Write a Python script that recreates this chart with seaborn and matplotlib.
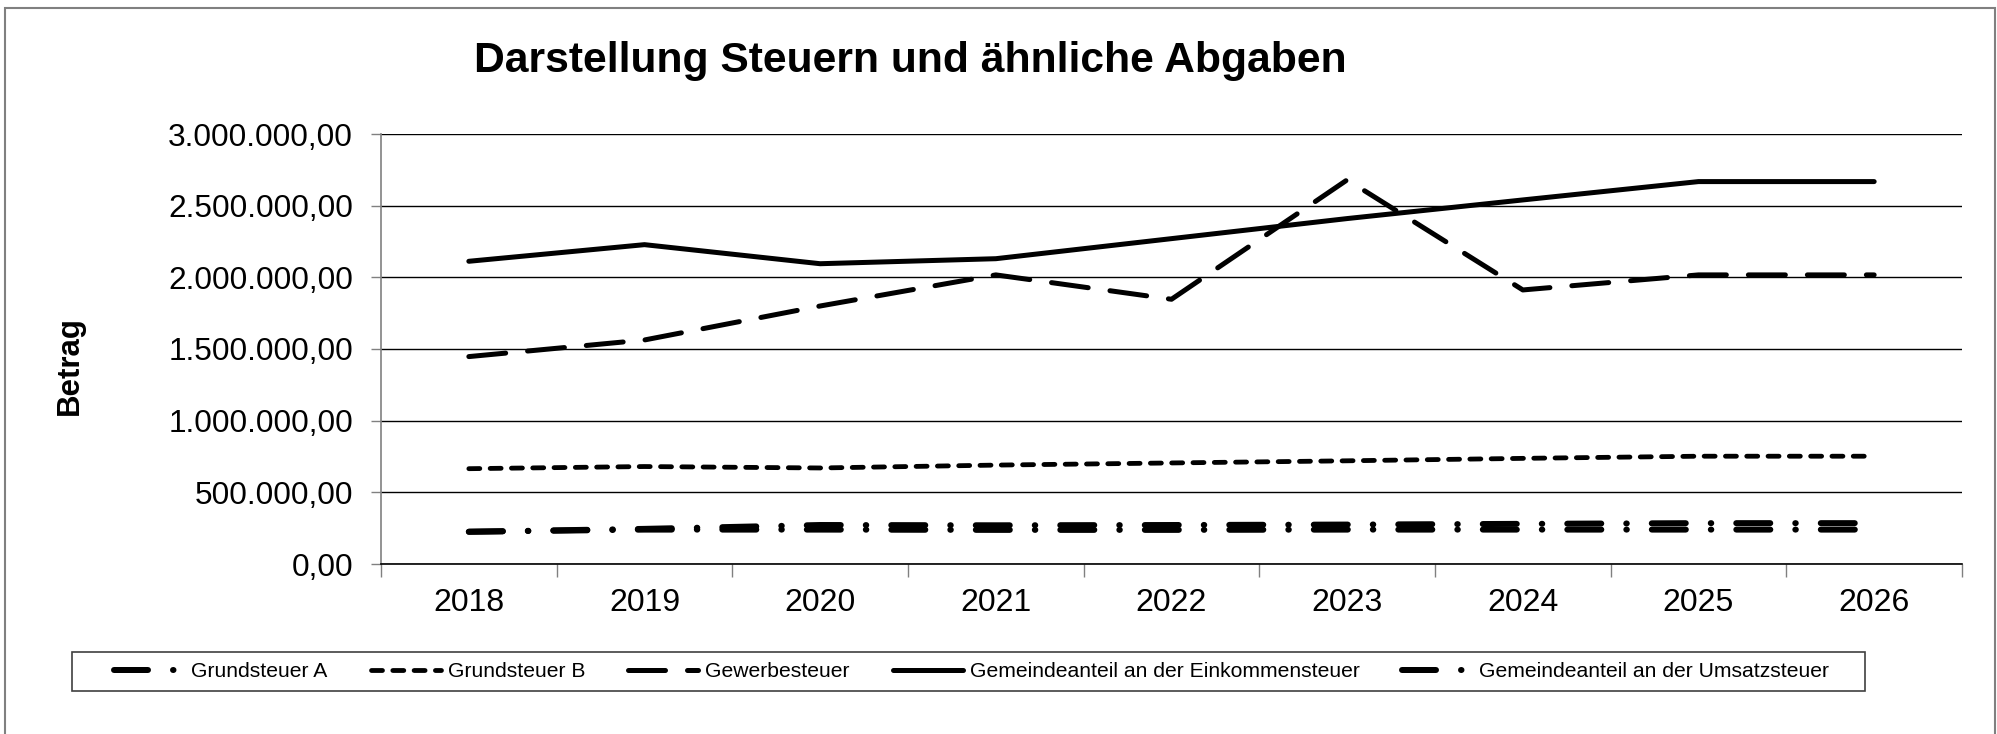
import matplotlib
matplotlib.use("Agg")
import matplotlib.pyplot as plt
import numpy as np
import pandas as pd
import seaborn as sns
from matplotlib.ticker import FixedLocator, FuncFormatter, NullFormatter, FixedFormatter
from matplotlib.patches import Rectangle

# ---------------- data ----------------
years = ["2018", "2019", "2020", "2021", "2022", "2023", "2024", "2025", "2026"]
grundsteuer_a = [225000, 240000, 240000, 238000, 238000, 240000, 240000, 240000, 240000]
grundsteuer_b = [665000, 680000, 670000, 690000, 705000, 720000, 737000, 752000, 752000]
gewerbesteuer = [1447000, 1563000, 1800000, 2017000, 1847000, 2680000, 1912000, 2017000, 2017000]
einkommensteuer = [2112000, 2228000, 2095000, 2130000, 2270000, 2410000, 2540000, 2668000, 2668000]
umsatzsteuer = [225000, 245000, 272000, 270000, 272000, 275000, 280000, 285000, 285000]

series_names = [
    "Grundsteuer A",
    "Grundsteuer B",
    "Gewerbesteuer",
    "Gemeindeanteil an der Einkommensteuer",
    "Gemeindeanteil an der Umsatzsteuer",
]
series_values = [grundsteuer_a, grundsteuer_b, gewerbesteuer, einkommensteuer, umsatzsteuer]
y_ticks = [0, 500000, 1000000, 1500000, 2000000, 2500000, 3000000]

title = "Darstellung Steuern und ähnliche Abgaben"
y_label = "Betrag"

# ---------------- style ----------------
sns.set_style("white")
plt.rcParams["font.family"] = ["Liberation Sans", "DejaVu Sans"]
plt.rcParams["text.color"] = "black"
plt.rcParams["axes.labelcolor"] = "black"
plt.rcParams["xtick.color"] = "black"
plt.rcParams["ytick.color"] = "black"
plt.rcParams["lines.scale_dashes"] = False
plt.rcParams["lines.dash_capstyle"] = "round"
plt.rcParams["lines.solid_capstyle"] = "round"

PX = 0.72  # px -> pt at dpi 100
dashdot = (0, (34 * PX, 25 * PX, 0.5 * PX, 25 * PX))
styles = [
    dict(lw=6 * PX, ls=dashdot),
    dict(lw=4.8 * PX, ls=(0, (11 * PX, 10.3 * PX))),
    dict(lw=5 * PX, ls=(0, (37 * PX, 22 * PX))),
    dict(lw=5 * PX, ls="-"),
    dict(lw=6 * PX, ls=dashdot),
]

W, H = 1997, 734
fig = plt.figure(figsize=(W / 100, H / 100), dpi=100)
ax_l, ax_r, ax_t, ax_b = 381, 1962, 134, 564
ax = fig.add_axes([ax_l / W, 1 - ax_b / H, (ax_r - ax_l) / W, (ax_b - ax_t) / H])

frames = []
for name, vals in zip(series_names, series_values):
    frames.append(pd.DataFrame({"Jahr": years, "Betrag": vals, "Serie": name}))
df = pd.concat(frames, ignore_index=True)

for name, st in zip(series_names, styles):
    sub = df[df["Serie"] == name]
    sns.lineplot(data=sub, x="Jahr", y="Betrag", ax=ax, color="black",
                 linewidth=st["lw"], linestyle=st["ls"], label=name,
                 legend=False, zorder=3)

# axes
ax.set_xlim(-0.5, len(years) - 0.5)
ax.set_ylim(0, 3000000)
ax.yaxis.set_major_locator(FixedLocator(y_ticks))
ax.yaxis.set_major_formatter(FuncFormatter(
    lambda v, p: f"{v:,.2f}".replace(",", "X").replace(".", ",").replace("X", ".")))
ax.yaxis.grid(True, color="black", linewidth=1.0, zorder=1)
ax.set_axisbelow(True)

ax.xaxis.set_major_locator(FixedLocator(np.arange(-0.5, len(years), 1.0)))
ax.xaxis.set_major_formatter(NullFormatter())
ax.xaxis.set_minor_locator(FixedLocator(np.arange(len(years))))
ax.xaxis.set_minor_formatter(FixedFormatter(years))

ax.tick_params(axis="y", which="major", labelsize=22.8, length=7.2, width=1,
               color="#808080", labelcolor="black", pad=13, direction="out", left=True)
ax.tick_params(axis="x", which="major", length=9.5, width=1, color="#808080",
               direction="out", bottom=True)
ax.tick_params(axis="x", which="minor", labelsize=23, labelcolor="black", length=0, pad=17)

ax.set_xlabel("")
ax.set_ylabel("")
for s in ["top", "right"]:
    ax.spines[s].set_visible(False)
ax.spines["left"].set_color("#808080")
ax.spines["left"].set_linewidth(1.2)
ax.spines["bottom"].set_color("black")
ax.spines["bottom"].set_linewidth(1.2)

# title and y-label
fig.text(910 / W, 1 - 61 / H, title, fontsize=30.7, fontweight="bold",
         ha="center", va="center", color="black")
fig.text(70 / W, 1 - 366 / H, y_label, fontsize=22.5, fontweight="bold",
         rotation=90, ha="center", va="center", color="black")

# legend
fs = 15.2
fs_px = fs / 0.72
handles = ax.get_lines()[:len(series_names)]
leg = fig.legend(handles=handles, labels=series_names, loc="center",
                 bbox_to_anchor=(971.8 / W, 1 - 671.5 / H), bbox_transform=fig.transFigure,
                 ncol=5, frameon=False, fontsize=fs, handlelength=70 / fs_px,
                 handletextpad=7 / fs_px, columnspacing=43 / fs_px, borderpad=0)
for t in leg.get_texts():
    t.set_color("black")
fig.add_artist(Rectangle((72 / W, 1 - 691 / H), (1865 - 72) / W, 39 / H,
                         transform=fig.transFigure, fill=False,
                         edgecolor="#404040", linewidth=1.2))

# outer chart border
fig.add_artist(Rectangle((5 / W, -0.05), (1995 - 5) / W, (1 - 8 / H) + 0.05,
                         transform=fig.transFigure, fill=False,
                         edgecolor="#808080", linewidth=1.5))

fig.savefig("out.png", dpi=100)
